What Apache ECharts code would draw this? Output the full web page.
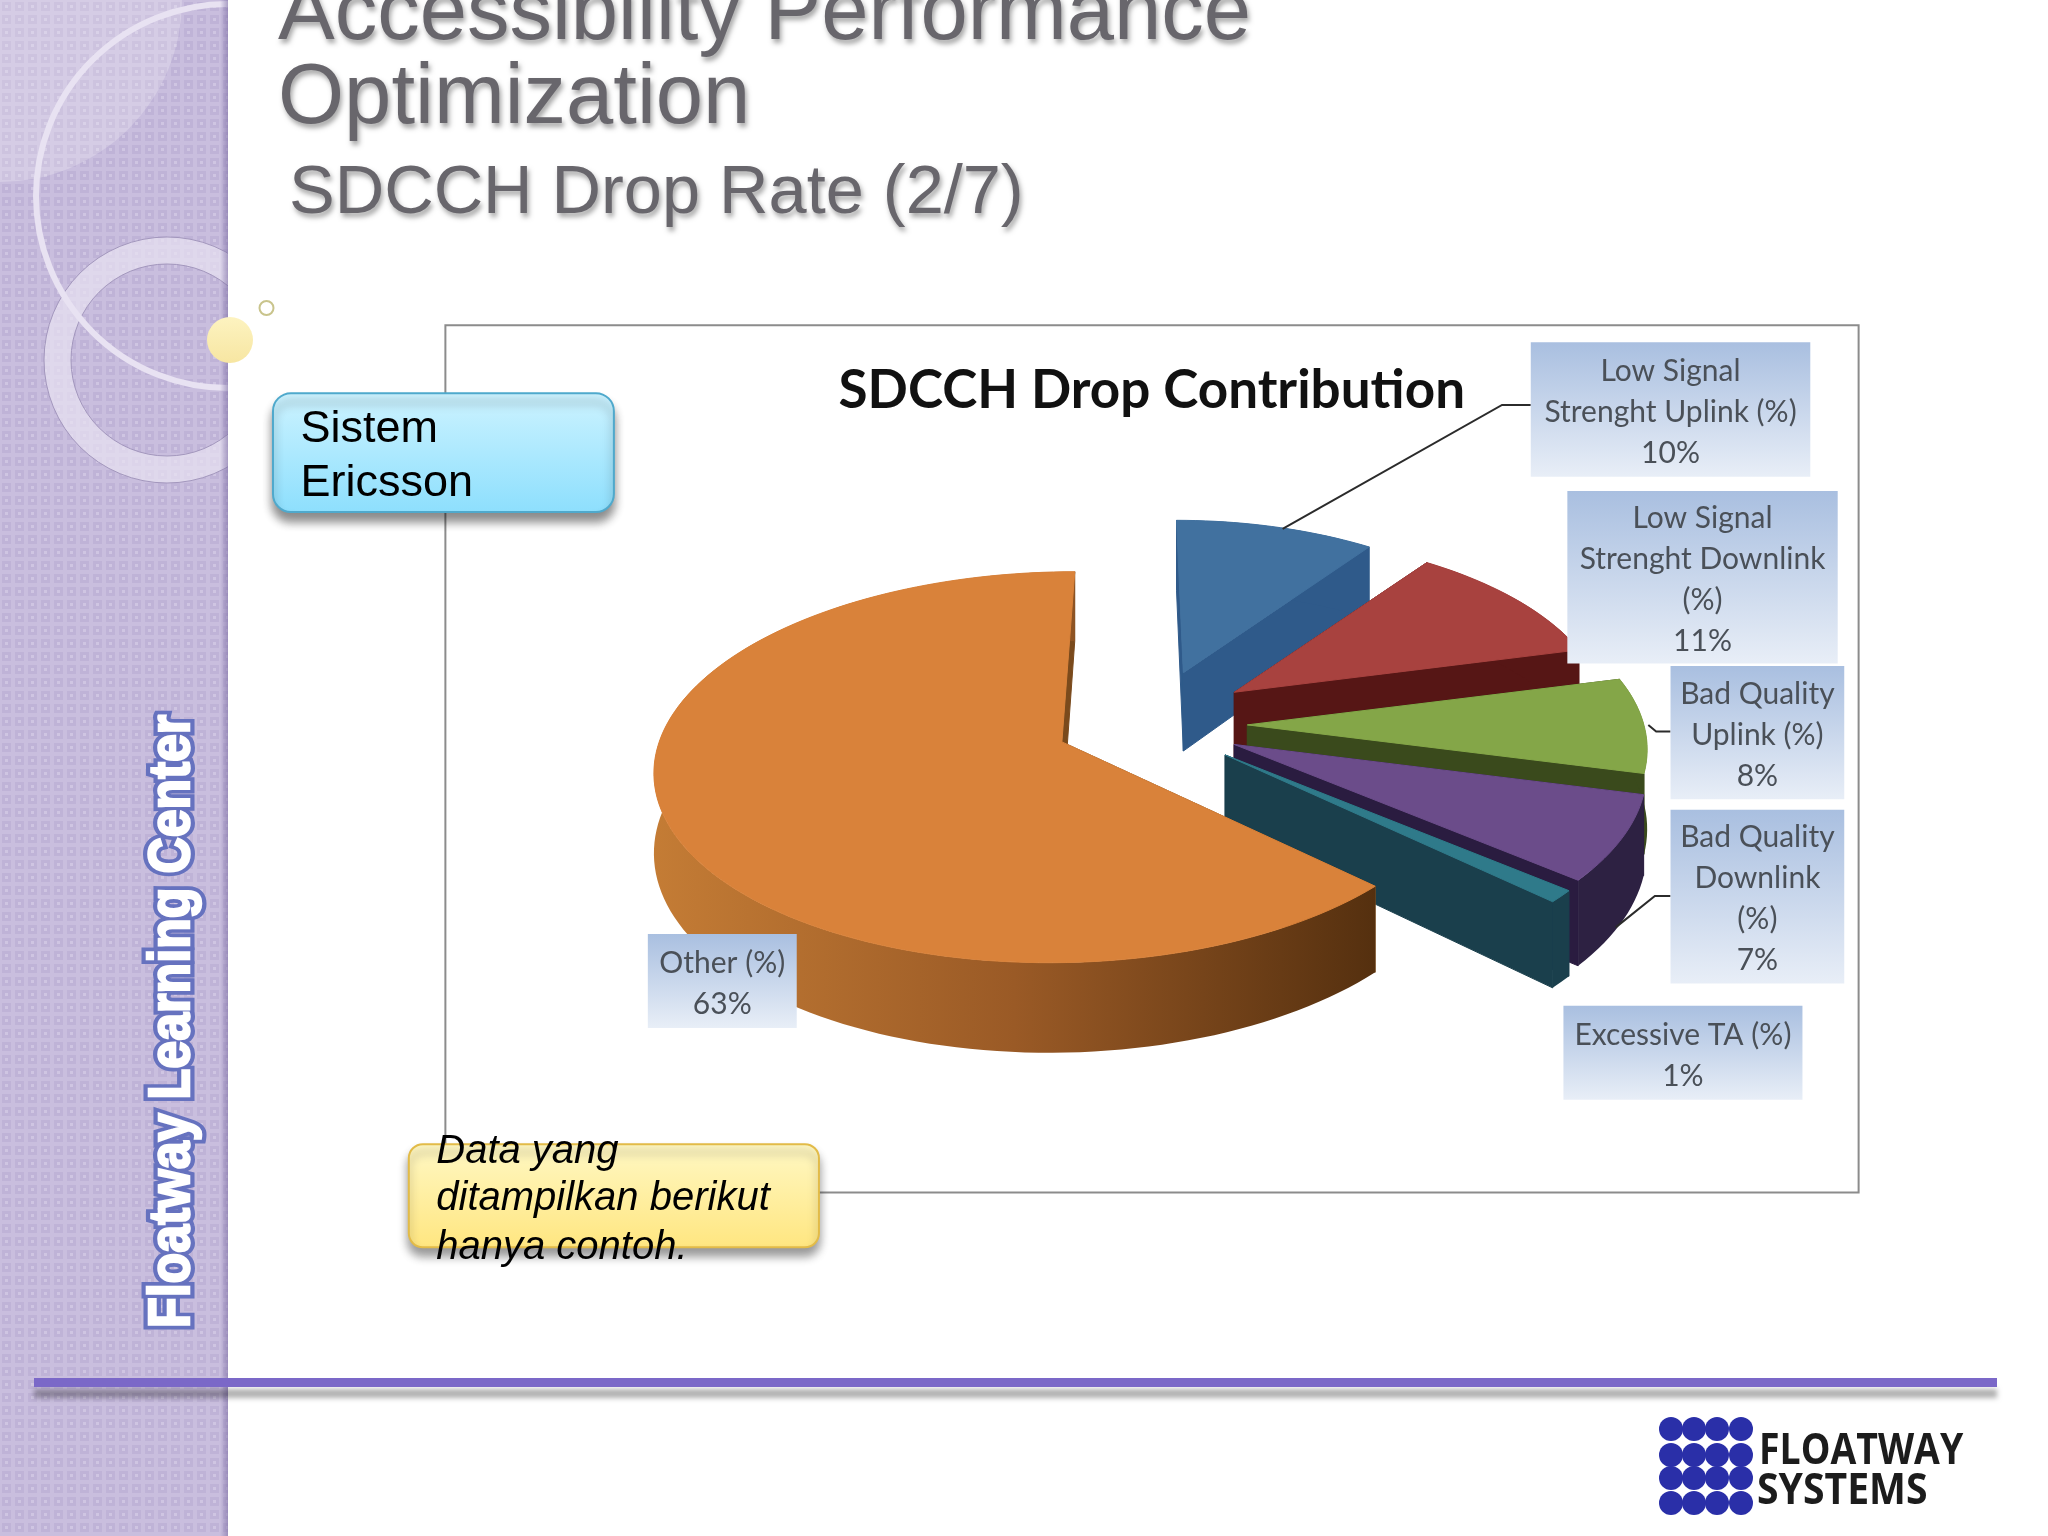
<!DOCTYPE html>
<html>
<head>
<meta charset="utf-8">
<title>SDCCH Drop Rate</title>
<script src="https://cdn.jsdelivr.net/npm/echarts@6/dist/echarts.min.js"></script>
<style>
    html, body { margin: 0; padding: 0; background: #fff; }
    #main { width: 2048px; height: 1536px; }
</style>
</head>
<body>
<div id="main"></div>
<script>
// data
var chartTitle = 'SDCCH Drop Contribution';
var sliceNames = [
    'Low Signal\nStrenght Uplink (%)',
    'Low Signal\nStrenght Downlink\n(%)',
    'Bad Quality\nUplink (%)',
    'Bad Quality\nDownlink\n(%)',
    'Excessive TA (%)',
    'Other (%)'
];
var sliceValues = [10, 11, 8, 7, 1, 63];

// layout was measured on a 1568 wide preview, S brings it to the real page
var S = 2048 / 1568;

// slice look: exploded apex, size, lean, colours
var sliceApex = [[906, 515], [945, 530], [955, 555], [945, 570], [938, 578], [813, 568]];
var sliceScale = [0.87, 0.9, 0.97, 1, 1, 0.985];
var sliceShear = [6, 5, 0, 0, 0, -10];
var sliceTop = ['#41719f', '#a8423f', '#84a648', '#6b4c8a', '#2f7a8a', '#d9823a'];
var sliceCut = ['#2f5a8a', '#561615', '#3a4a1c', '#2a1c40', '#1a3f4c', '#7a4a1c'];
var sliceWall = ['#2f5a8a', '#561615', '#3a4a1c', '#2d2142', '#1a3f4c', null];

// label boxes [x0, y0, x1, y1] and the leader lines that have one
var labelBox = [
    [1172, 262, 1386, 365],
    [1200, 376, 1407, 508],
    [1279, 510, 1412, 612],
    [1279, 620, 1412, 753],
    [1197, 770, 1380, 842],
    [496, 715, 610, 787]
];
var leaderLine = [
    [[982, 405], [1150, 310], [1172, 310]],
    null,
    [[1262, 555], [1268, 560], [1279, 560]],
    [[1237, 710], [1267, 686], [1279, 686]],
    null,
    null
];

var pieR = 313, pieK = 149.4, pieP = 0.1316, pieDepth = 60;

var total = sliceValues.reduce(function (a, b) { return a + b; }, 0);

function sliceAngles(i) {
    var before = 0;
    for (var k = 0; k < i; k++) before += sliceValues[k];
    return [before / total * Math.PI * 2, (before + sliceValues[i]) / total * Math.PI * 2];
}

// point on the tilted disc, z = 0 top face, z = 1 bottom face
function project(i, ang, r, z) {
    var X = Math.sin(ang) * r * sliceScale[i];
    var Y = -Math.cos(ang) * r * sliceScale[i];
    var s = 1 / (1 - pieP * Y);
    return [
        (sliceApex[i][0] + pieR * X * s + sliceShear[i] * Y) * S,
        (sliceApex[i][1] + pieK * Y * s + pieDepth * z * s) * S
    ];
}

function arcPoints(i, a, b, z) {
    var pts = [];
    var n = Math.max(2, Math.round((b - a) / 0.03));
    for (var k = 0; k <= n; k++) pts.push(project(i, a + (b - a) * k / n, 1, z));
    return pts;
}

function poly(points, fill, stroke) {
    return {
        type: 'polygon',
        shape: { points: points },
        style: { fill: fill, stroke: stroke || fill, lineWidth: 1 }
    };
}

function renderSlice(params, api) {
    var i = params.dataIndex;
    var ang = sliceAngles(i);
    var a = ang[0], b = ang[1];
    var apexTop = project(i, 0, 0, 0), apexLow = project(i, 0, 0, 1);
    var children = [];

    // cut faces
    children.push(poly([apexTop, project(i, a, 1, 0), project(i, a, 1, 1), apexLow], sliceCut[i]));
    children.push(poly([apexTop, project(i, b, 1, 0), project(i, b, 1, 1), apexLow], sliceCut[i]));

    // outer wall
    var wallFill = sliceWall[i];
    if (!wallFill) {
        wallFill = new echarts.graphic.LinearGradient(0, 0, 1, 0, [
            { offset: 0, color: '#c47c35' },
            { offset: 0.5, color: '#9a5a26' },
            { offset: 1, color: '#55300f' }
        ]);
    }
    var topArc = arcPoints(i, a, b, 0);
    var lowArc = arcPoints(i, a, b, 1).reverse();
    children.push({
        type: 'polygon',
        shape: { points: topArc.concat(lowArc) },
        style: { fill: wallFill }
    });

    // top face
    children.push(poly([apexTop].concat(topArc), sliceTop[i]));
    return { type: 'group', children: children };
}

function renderLabel(params, api) {
    var i = params.dataIndex;
    var box = labelBox[i];
    var children = [];
    if (leaderLine[i]) {
        children.push({
            type: 'polyline',
            shape: { points: leaderLine[i].map(function (p) { return [p[0] * S, p[1] * S]; }) },
            style: { fill: null, stroke: '#2b2b2b', lineWidth: 2 }
        });
    }
    children.push({
        type: 'rect',
        shape: { x: box[0] * S, y: box[1] * S, width: (box[2] - box[0]) * S, height: (box[3] - box[1]) * S },
        style: {
            fill: new echarts.graphic.LinearGradient(0, 0, 0, 1, [
                { offset: 0, color: '#a9bfe0' },
                { offset: 1, color: '#e8eef7' }
            ])
        }
    });
    children.push({
        type: 'text',
        style: {
            text: sliceNames[i] + '\n' + api.value(0) + '%',
            x: (box[0] + box[2]) / 2 * S,
            y: ((box[1] + box[3]) / 2 + 2) * S,
            align: 'center',
            verticalAlign: 'middle',
            font: '30px Lato',
            lineHeight: 41,
            fill: '#4a5058'
        }
    });
    return { type: 'group', children: children };
}

// sidebar texture
function sidebarPattern() {
    var c = document.createElement('canvas');
    c.width = 13; c.height = 13;
    var g = c.getContext('2d');
    g.fillStyle = '#c9bede';
    g.fillRect(0, 0, 13, 13);
    g.fillStyle = '#bfb3d7';
    g.fillRect(2, 2, 9, 9);
    g.fillStyle = '#cfc5e2';
    g.fillRect(5, 5, 3, 3);
    return c;
}

// y is the baseline, zrender only aligns to the top of the line box
function slideText(text, x, y, size, style, fill, shadow) {
    return {
        type: 'text',
        style: {
            text: text, x: x, y: y - size * 0.82,
            font: (style ? style + ' ' : '') + size + 'px "Liberation Sans"',
            fill: fill,
            textShadowColor: shadow ? 'rgba(0,0,0,0.35)' : 'transparent',
            textShadowBlur: shadow ? 5 : 0,
            textShadowOffsetX: shadow ? 2 : 0,
            textShadowOffsetY: shadow ? 4 : 0
        }
    };
}

function logoText(text, x, y, squeeze) {
    return {
        type: 'text', x: x, y: y - 34, scaleX: squeeze,
        style: { text: text, x: 0, y: 0, font: 'bold 43px "Open Sans"', fill: '#1c1c1c' }
    };
}

function sidebarText(stroke, width) {
    return {
        type: 'text', x: 144, y: 1328, rotation: Math.PI / 2, scaleX: 0.865,
        style: {
            text: 'Floatway Learning Center', x: 0, y: 0,
            font: 'bold 58px "Liberation Sans"', fill: '#fff',
            stroke: stroke, lineWidth: width
        }
    };
}

var logoDots = [];
[1671, 1694, 1717, 1741].forEach(function (x) {
    [1429, 1455, 1478, 1503].forEach(function (y) {
        logoDots.push({ type: 'circle', shape: { cx: x, cy: y, r: 12 }, style: { fill: '#2a2fa8' } });
    });
});

var slideGraphics = [
    // sidebar
    { type: 'rect', shape: { x: 0, y: 0, width: 228, height: 1536 }, style: { fill: { image: sidebarPattern(), repeat: 'repeat' } } },
    { type: 'sector', shape: { cx: 0, cy: 0, r: 182, startAngle: 0, endAngle: Math.PI / 2 }, style: { fill: 'rgba(255,255,255,0.22)' } },
    { type: 'ring', shape: { cx: 167, cy: 360, r: 123, r0: 96 }, style: { fill: 'rgba(232,227,242,0.7)', stroke: '#a397bd', lineWidth: 1 } },
    { type: 'circle', shape: { cx: 228, cy: 196, r: 192 }, style: { fill: 'transparent', stroke: '#e8e2f2', lineWidth: 6 } },
    { type: 'rect', shape: { x: 220, y: 0, width: 8, height: 1536 }, style: { fill: new echarts.graphic.LinearGradient(0, 0, 1, 0, [
        { offset: 0, color: 'rgba(120,105,160,0)' },
        { offset: 1, color: 'rgba(120,105,160,0.55)' }
    ]) } },
    // white page hides whatever the rings push past the sidebar
    { type: 'rect', shape: { x: 228, y: 0, width: 1820, height: 1536 }, style: { fill: '#fff' } },
    { type: 'circle', shape: { cx: 230, cy: 340, r: 23 }, style: { fill: new echarts.graphic.LinearGradient(0, 0, 0, 1, [
        { offset: 0, color: '#fdf3c0' },
        { offset: 1, color: '#f7e6a2' }
    ]) } },
    { type: 'circle', shape: { cx: 266.5, cy: 308, r: 7 }, style: { fill: '#fff', stroke: '#c9c48c', lineWidth: 2 } },
    sidebarText('#6672bf', 11),
    sidebarText('#fff', 2.5),

    // headings
    slideText('Accessibility Performance', 278, 43, 85, '', '#68666c', true),
    slideText('Optimization', 278, 127, 85, '', '#68666c', true),
    slideText('SDCCH Drop Rate (2/7)', 289, 216, 68.5, '', '#68666c', true),

    // chart frame
    { type: 'rect', shape: { x: 341 * S, y: 249 * S, width: 1082 * S, height: 664 * S }, style: { fill: '#fff', stroke: '#8c8c8c', lineWidth: 2 } },

    // callouts
    {
        type: 'rect',
        shape: { x: 209 * S, y: 301 * S, width: 261 * S, height: 91 * S, r: 18 },
        style: {
            fill: new echarts.graphic.LinearGradient(0, 0, 0, 1, [
                { offset: 0, color: '#cdf3ff' },
                { offset: 1, color: '#8ddffd' }
            ]),
            stroke: '#4fa9cc', lineWidth: 2,
            shadowColor: 'rgba(0,0,0,0.45)', shadowBlur: 10, shadowOffsetY: 9
        }
    },
    slideText('Sistem', 230 * S, 340 * S, 45, '', '#000'),
    slideText('Ericsson', 230 * S, 381 * S, 45, '', '#000'),
    {
        type: 'rect',
        shape: { x: 313 * S, y: 876 * S, width: 314 * S, height: 79 * S, r: 14 },
        style: {
            fill: new echarts.graphic.LinearGradient(0, 0, 0, 1, [
                { offset: 0, color: '#fff8c4' },
                { offset: 1, color: '#ffe680' }
            ]),
            stroke: '#e2bb48', lineWidth: 2,
            shadowColor: 'rgba(0,0,0,0.4)', shadowBlur: 10, shadowOffsetY: 8
        }
    },
    slideText('Data yang', 334 * S, 892 * S, 40, 'italic', '#000'),
    slideText('ditampilkan berikut', 334 * S, 928 * S, 40, 'italic', '#000'),
    slideText('hanya contoh.', 334 * S, 965 * S, 40, 'italic', '#000'),

    // footer rule
    { type: 'rect', shape: { x: 34, y: 1378, width: 1963, height: 9 }, style: { fill: '#7b68c8', shadowColor: 'rgba(0,0,0,0.3)', shadowBlur: 5, shadowOffsetY: 11 } },

    // logo
    { type: 'group', children: logoDots },
    logoText('FLOATWAY', 1759, 1464, 0.87),
    logoText('SYSTEMS', 1757, 1504, 0.91)
];

var myChart = echarts.init(document.getElementById('main'));
var option = {
    backgroundColor: '#fff',
    animation: false,
    title: {
        text: chartTitle,
        left: 878 * S,
        top: 301 * S - 34,
        textAlign: 'center',
        textStyle: { fontFamily: 'Lato', fontWeight: 'bold', fontSize: 53, color: '#111' }
    },
    graphic: { elements: slideGraphics },
    series: [{
        name: 'slices',
        type: 'custom',
        coordinateSystem: 'none',
        renderItem: renderSlice,
        data: sliceValues,
        silent: true,
        z: 3
    }, {
        name: 'labels',
        type: 'custom',
        coordinateSystem: 'none',
        renderItem: renderLabel,
        data: sliceValues,
        silent: true,
        z: 4
    }]
};
myChart.setOption(option);
</script>
</body>
</html>
